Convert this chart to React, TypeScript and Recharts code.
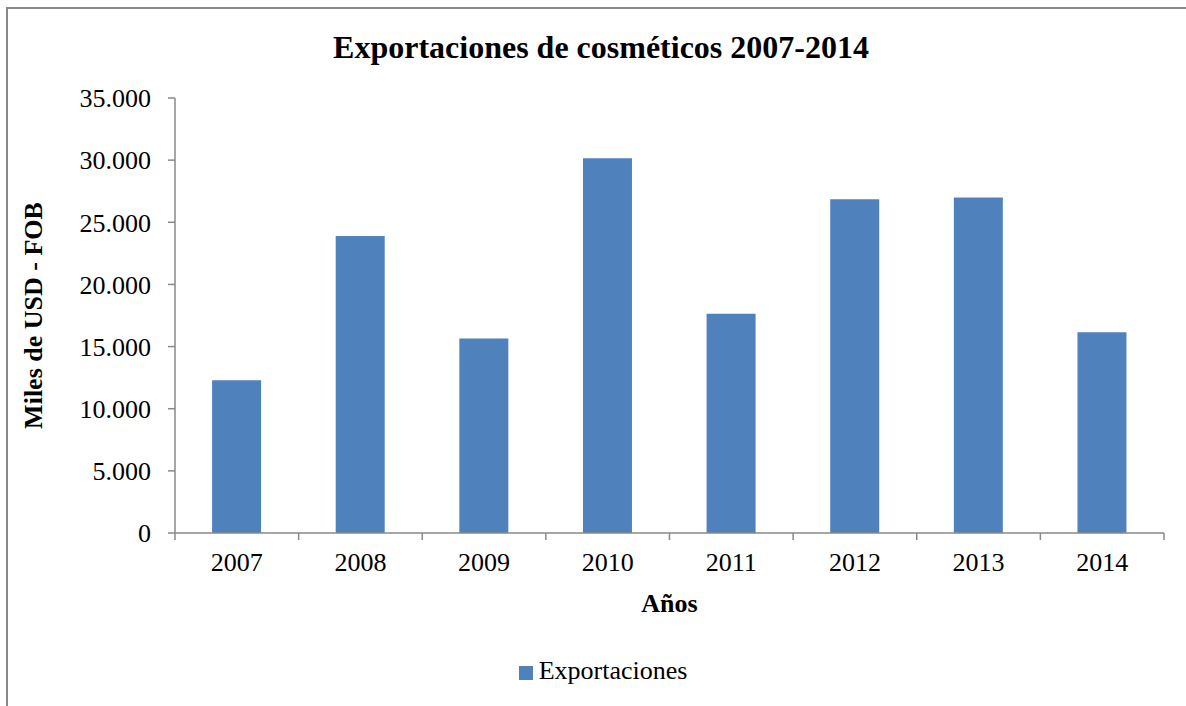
import { Bar, BarChart, Legend, XAxis, YAxis } from "recharts";

const years = ["2007", "2008", "2009", "2010", "2011", "2012", "2013", "2014"];
const exportaciones = [12300, 23900, 15650, 30150, 17650, 26850, 27000, 16150];
const yTicks = [0, 5000, 10000, 15000, 20000, 25000, 30000, 35000];

const data = years.map((year, i) => ({ year, exportaciones: exportaciones[i] }));

const FONT = '"Liberation Serif", "Times New Roman", serif';
const AXIS = "#898989";
const BAR = "#4F81BD";

const CHART_W = 1186;
const CHART_H = 706;
const MARGIN = { top: 98, right: 22, left: 0, bottom: 19 };
const Y_AXIS_W = 175;
const TICK_SIZE = 7;
const X_TICK_MARGIN = 13;
const BAND = (CHART_W - MARGIN.left - MARGIN.right - Y_AXIS_W) / years.length;

// miles con punto: 35.000
const fmt = (v: number) => String(v).replace(/\B(?=(\d{3})+(?!\d))/g, ".");

// Excel pone las marcas del eje X entre categorias, no en el centro
function YearTick(props: any) {
  const { x, y, payload, index } = props;
  const top = y - TICK_SIZE - X_TICK_MARGIN;
  const half = BAND / 2;
  return (
    <g>
      <line x1={x - half} x2={x - half} y1={top} y2={top + TICK_SIZE} stroke={AXIS} strokeWidth={1.5} />
      {index === years.length - 1 && (
        <line x1={x + half} x2={x + half} y1={top} y2={top + TICK_SIZE} stroke={AXIS} strokeWidth={1.5} />
      )}
      <text x={x} y={y} dy="0.71em" textAnchor="middle" fill="#000" fontSize={26} fontFamily={FONT}>
        {payload.value}
      </text>
    </g>
  );
}

export default function App() {
  return (
    <div style={{ position: "relative", width: CHART_W, height: CHART_H, overflow: "hidden", fontFamily: FONT }}>
      <style>{`body{margin:0;overflow:hidden;background:#fff}`}</style>
      <div
        style={{
          position: "absolute",
          left: 6,
          top: 7,
          width: CHART_W - 8,
          height: CHART_H,
          borderLeft: `2px solid ${AXIS}`,
          borderTop: `2px solid ${AXIS}`,
        }}
      />
      <div
        style={{
          position: "absolute",
          left: 8,
          top: 31,
          width: CHART_W,
          textAlign: "center",
          fontSize: 32,
          lineHeight: "32px",
          fontWeight: "bold",
          color: "#000",
        }}
      >
        Exportaciones de cosméticos 2007-2014
      </div>
      <div style={{ position: "absolute", left: 0, top: 0 }}>
        <BarChart width={CHART_W} height={CHART_H} data={data} margin={MARGIN} barCategoryGap="30%">
          <XAxis
            dataKey="year"
            height={124}
            stroke={AXIS}
            strokeWidth={1.5}
            tickLine={false}
            tickSize={TICK_SIZE}
            tickMargin={X_TICK_MARGIN}
            tick={<YearTick />}
            interval={0}
            label={{
              value: "Años",
              position: "insideBottom",
              offset: 45,
              style: { fontFamily: FONT, fontSize: 26, fontWeight: "bold", fill: "#000" },
            }}
          />
          <YAxis
            width={Y_AXIS_W}
            domain={[0, 35000]}
            ticks={yTicks}
            interval={0}
            tickFormatter={fmt}
            stroke={AXIS}
            strokeWidth={1.5}
            tickSize={TICK_SIZE}
            tickMargin={17}
            tick={{ fill: "#000", fontSize: 26, fontFamily: FONT }}
            label={{
              value: "Miles de USD - FOB",
              angle: -90,
              position: "insideLeft",
              offset: 33,
              style: { textAnchor: "middle", fontFamily: FONT, fontSize: 26, fontWeight: "bold", fill: "#000" },
            }}
          />
          <Legend
            verticalAlign="bottom"
            iconType="square"
            iconSize={14}
            wrapperStyle={{ left: 26, bottom: 22 }}
            formatter={(value: string) => (
              <span
                style={{
                  color: "#000",
                  fontSize: 26,
                  fontFamily: FONT,
                  marginLeft: 2,
                  position: "relative",
                  top: 2,
                }}
              >
                {value}
              </span>
            )}
          />
          <Bar dataKey="exportaciones" name="Exportaciones" fill={BAR} isAnimationActive={false} />
        </BarChart>
      </div>
    </div>
  );
}
